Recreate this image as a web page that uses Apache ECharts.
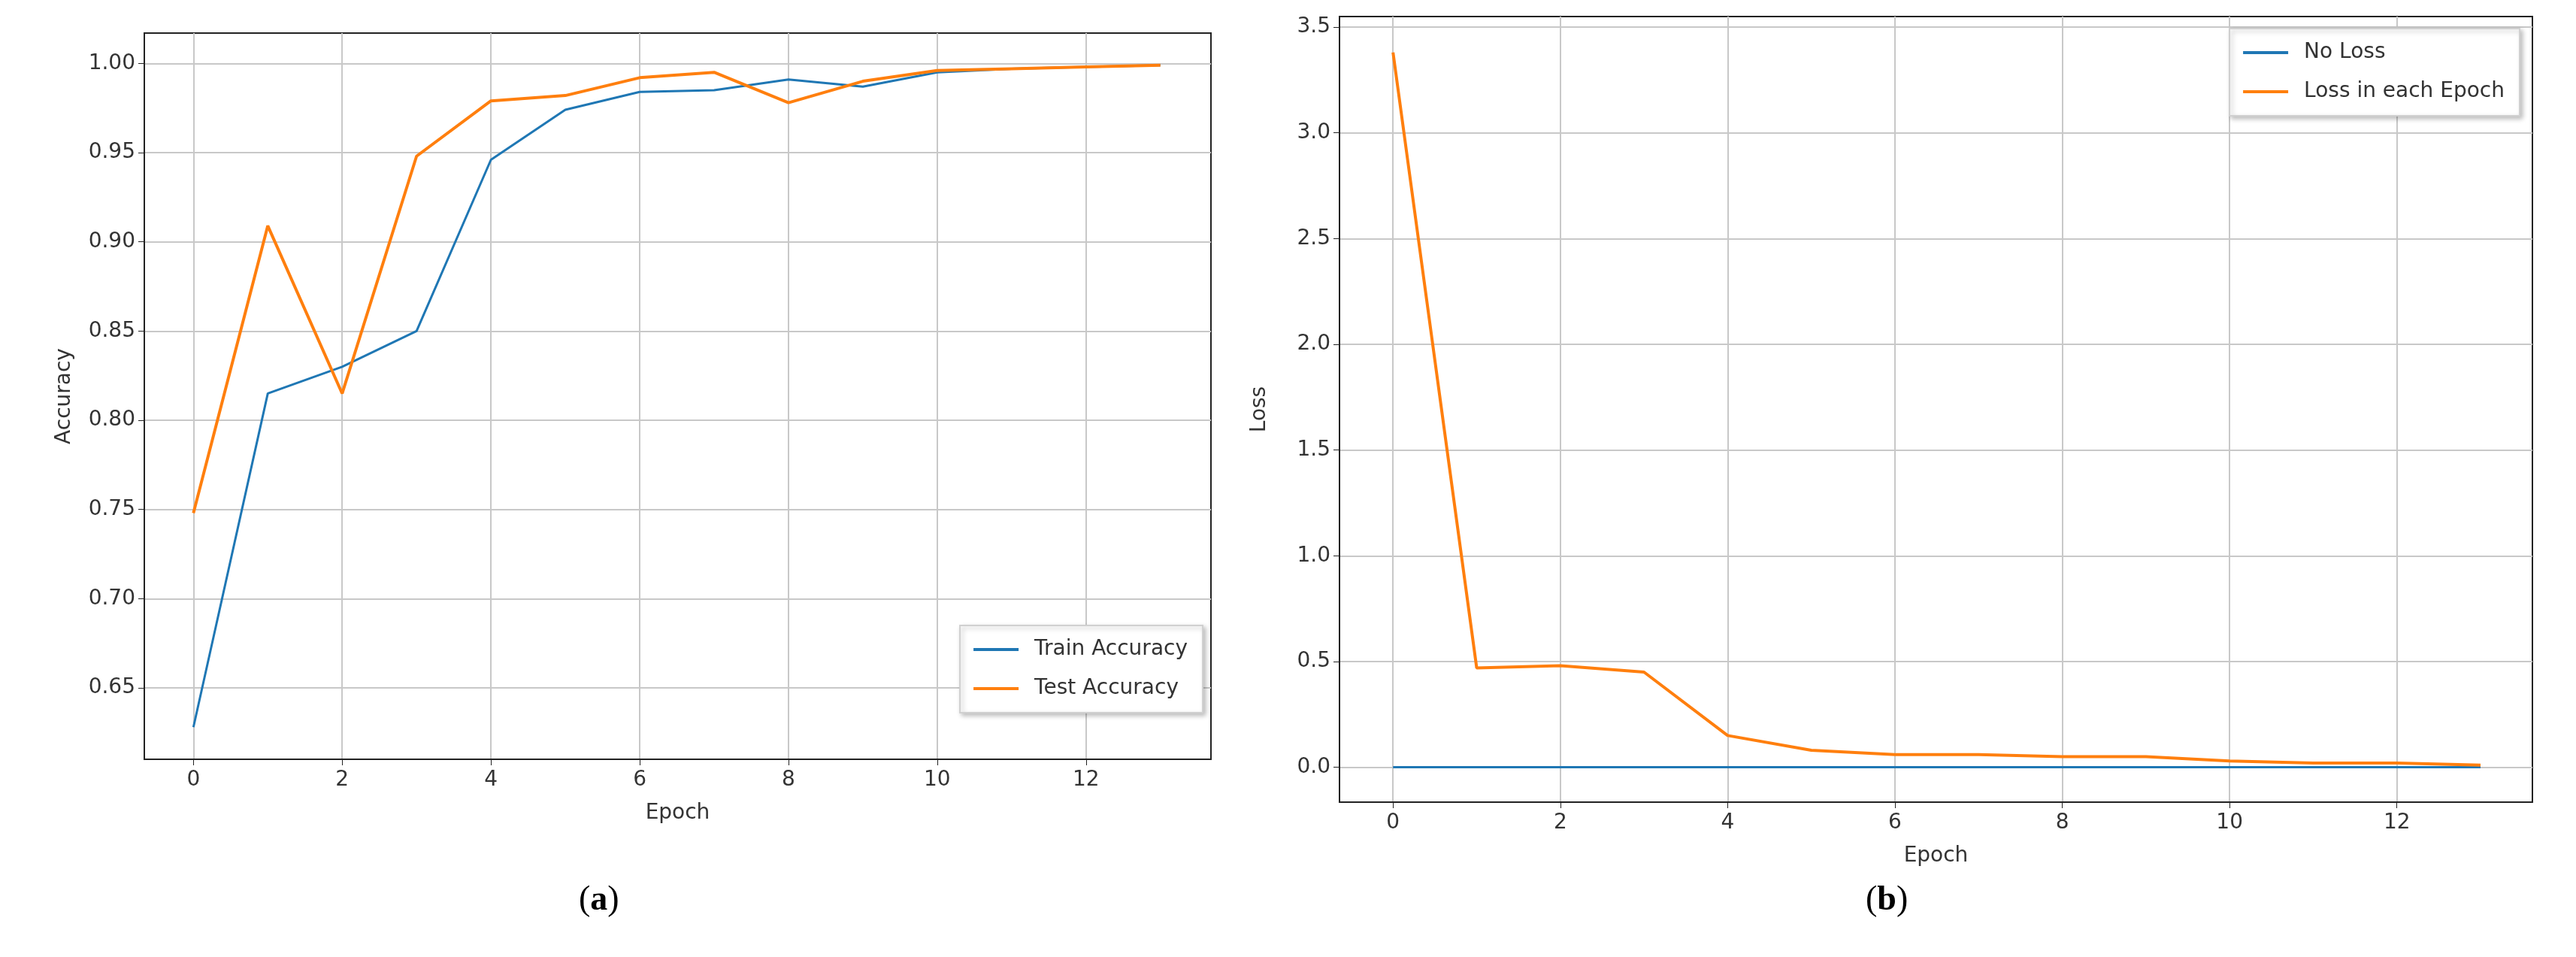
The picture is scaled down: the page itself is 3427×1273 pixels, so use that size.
<!DOCTYPE html>
<html>
<head>
<meta charset="utf-8">
<script src="https://cdn.jsdelivr.net/npm/echarts@6/dist/echarts.min.js"></script>
<style>
  html, body { margin: 0; padding: 0; background: #fff; }
  #chart { width: 3427px; height: 1273px; }
</style>
</head>
<body>
<div id="chart"></div>
<script>
var epochs = [0, 1, 2, 3, 4, 5, 6, 7, 8, 9, 10, 11, 12, 13];
var trainAcc = [0.628, 0.815, 0.830, 0.850, 0.946, 0.974, 0.984, 0.985, 0.991, 0.987, 0.995, 0.997, 0.998, 0.999];
var testAcc = [0.748, 0.909, 0.815, 0.948, 0.979, 0.982, 0.992, 0.995, 0.978, 0.990, 0.996, 0.997, 0.998, 0.999];
var noLoss = [0, 0, 0, 0, 0, 0, 0, 0, 0, 0, 0, 0, 0, 0];
var epochLoss = [3.38, 0.47, 0.48, 0.45, 0.15, 0.08, 0.06, 0.06, 0.05, 0.05, 0.03, 0.02, 0.02, 0.01];
var xTicks = [0, 2, 4, 6, 8, 10, 12];
var accTicks = [0.65, 0.70, 0.75, 0.80, 0.85, 0.90, 0.95, 1.00];
var lossTicks = [0.0, 0.5, 1.0, 1.5, 2.0, 2.5, 3.0, 3.5];

var blue = '#1f77b4', orange = '#ff7f0e';
var font = 'DejaVu Sans';

function pairs(ys) {
    return epochs.map(function (x, i) { return [x, ys[i]]; });
}

function xAxis(idx, min, max) {
    return {
        type: 'value', gridIndex: idx, min: min, max: max,
        name: 'Epoch', nameLocation: 'middle', nameGap: 58,
        nameTextStyle: { fontFamily: font, fontSize: 28, color: '#333' },
        axisLine: { show: true, onZero: false, lineStyle: { color: '#222', width: 2 } },
        axisTick: { show: true, customValues: xTicks, length: 8, lineStyle: { color: '#222' } },
        axisLabel: { customValues: xTicks, fontFamily: font, fontSize: 28, color: '#333', margin: 14 },
        splitLine: { show: true, lineStyle: { color: '#c8c8c8', width: 2 } }
    };
}

function yAxis(idx, min, max, ticks, name, digits) {
    return {
        type: 'value', gridIndex: idx, min: min, max: max,
        name: name, nameLocation: 'middle', nameGap: 92,
        nameTextStyle: { fontFamily: font, fontSize: 28, color: '#333' },
        axisLine: { show: true, onZero: false, lineStyle: { color: '#222', width: 2 } },
        axisTick: { show: true, customValues: ticks, length: 8, lineStyle: { color: '#222' } },
        axisLabel: {
            customValues: ticks, fontFamily: font, fontSize: 28, color: '#333', margin: 12,
            formatter: function (v) { return v.toFixed(digits); }
        },
        splitLine: { show: true, lineStyle: { color: '#c8c8c8', width: 2 } }
    };
}

function legendBox(idx, names, pos) {
    return Object.assign({
        data: names, orient: 'vertical', itemWidth: 60, itemHeight: 4, itemGap: 24,
        icon: 'rect', padding: [18, 20, 18, 18],
        backgroundColor: '#fff', borderColor: '#d0d0d0', borderWidth: 2,
        shadowColor: 'rgba(0,0,0,0.25)', shadowBlur: 6, shadowOffsetX: 3, shadowOffsetY: 3,
        textStyle: { fontFamily: font, fontSize: 28, color: '#333', padding: [0, 0, 0, 16] }
    }, pos);
}

function caption(letter, left) {
    return {
        text: '({b|' + letter + '})', left: left, top: 1170,
        textStyle: {
            fontFamily: 'Liberation Serif', fontSize: 46, fontWeight: 'normal', color: '#000',
            rich: { b: { fontFamily: 'Liberation Serif', fontSize: 46, fontWeight: 'bold', color: '#000' } }
        }
    };
}

var chart = echarts.init(document.getElementById('chart'));
chart.setOption({
    animation: false,
    backgroundColor: '#fff',
    grid: [
        { left: 192, top: 44, width: 1419, height: 966, show: true, borderColor: '#222', borderWidth: 2 },
        { left: 1782, top: 22, width: 1587, height: 1045, show: true, borderColor: '#222', borderWidth: 2 }
    ],
    xAxis: [xAxis(0, -0.66, 13.68), xAxis(1, -0.64, 13.62)],
    yAxis: [
        yAxis(0, 0.610, 1.017, accTicks, 'Accuracy', 2),
        yAxis(1, -0.165, 3.55, lossTicks, 'Loss', 1)
    ],
    legend: [
        legendBox(0, ['Train Accuracy', 'Test Accuracy'], { right: 1827, top: 832 }),
        legendBox(1, ['No Loss', 'Loss in each Epoch'], { right: 75, top: 38 })
    ],
    title: [caption('a', 765), caption('b', 2477)],
    series: [
        { name: 'Train Accuracy', type: 'line', xAxisIndex: 0, yAxisIndex: 0, data: pairs(trainAcc), showSymbol: false, lineStyle: { color: blue, width: 3 }, itemStyle: { color: blue } },
        { name: 'Test Accuracy', type: 'line', xAxisIndex: 0, yAxisIndex: 0, data: pairs(testAcc), showSymbol: false, lineStyle: { color: orange, width: 4 }, itemStyle: { color: orange } },
        { name: 'No Loss', type: 'line', xAxisIndex: 1, yAxisIndex: 1, data: pairs(noLoss), showSymbol: false, lineStyle: { color: blue, width: 3 }, itemStyle: { color: blue } },
        { name: 'Loss in each Epoch', type: 'line', xAxisIndex: 1, yAxisIndex: 1, data: pairs(epochLoss), showSymbol: false, lineStyle: { color: orange, width: 4 }, itemStyle: { color: orange } }
    ]
});
</script>
</body>
</html>
